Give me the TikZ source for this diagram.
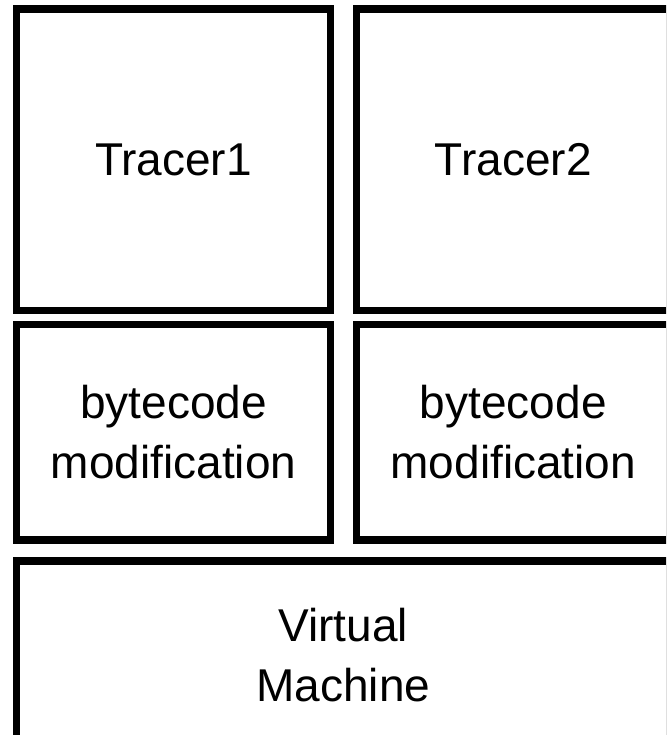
\documentclass[tikz,border=0pt]{standalone}
\usepackage{fontspec}
\setmainfont{Liberation Sans}
\begin{document}
\begin{tikzpicture}[x=1pt, y=-1pt,
  layer/.style={draw=black, line width=7.5pt, rectangle, inner sep=0pt,
    align=center, font=\fontsize{46}{60}\selectfont}]
  \useasboundingbox (0,0) rectangle (666,735);
  \clip (0,0) rectangle (666,735);
  % tracers on top
  \node[layer, minimum width=314pt, minimum height=301.5pt] (t1) at (173.5,159.75) {Tracer1};
  \node[layer, minimum width=313.5pt, minimum height=301.5pt] (t2) at (513.25,159.75) {Tracer2};
  % instrumentation layer
  \node[layer, minimum width=314pt, minimum height=215.5pt] (b1) at (173.5,432.25) {bytecode\\modification};
  \node[layer, minimum width=313.5pt, minimum height=215.5pt] (b2) at (513.25,432.25) {bytecode\\modification};
  % runtime at the bottom
  \node[layer, minimum width=653.5pt, minimum height=189pt] (vm) at (343.25,655.5) {Virtual\\Machine};
\end{tikzpicture}
\end{document}
